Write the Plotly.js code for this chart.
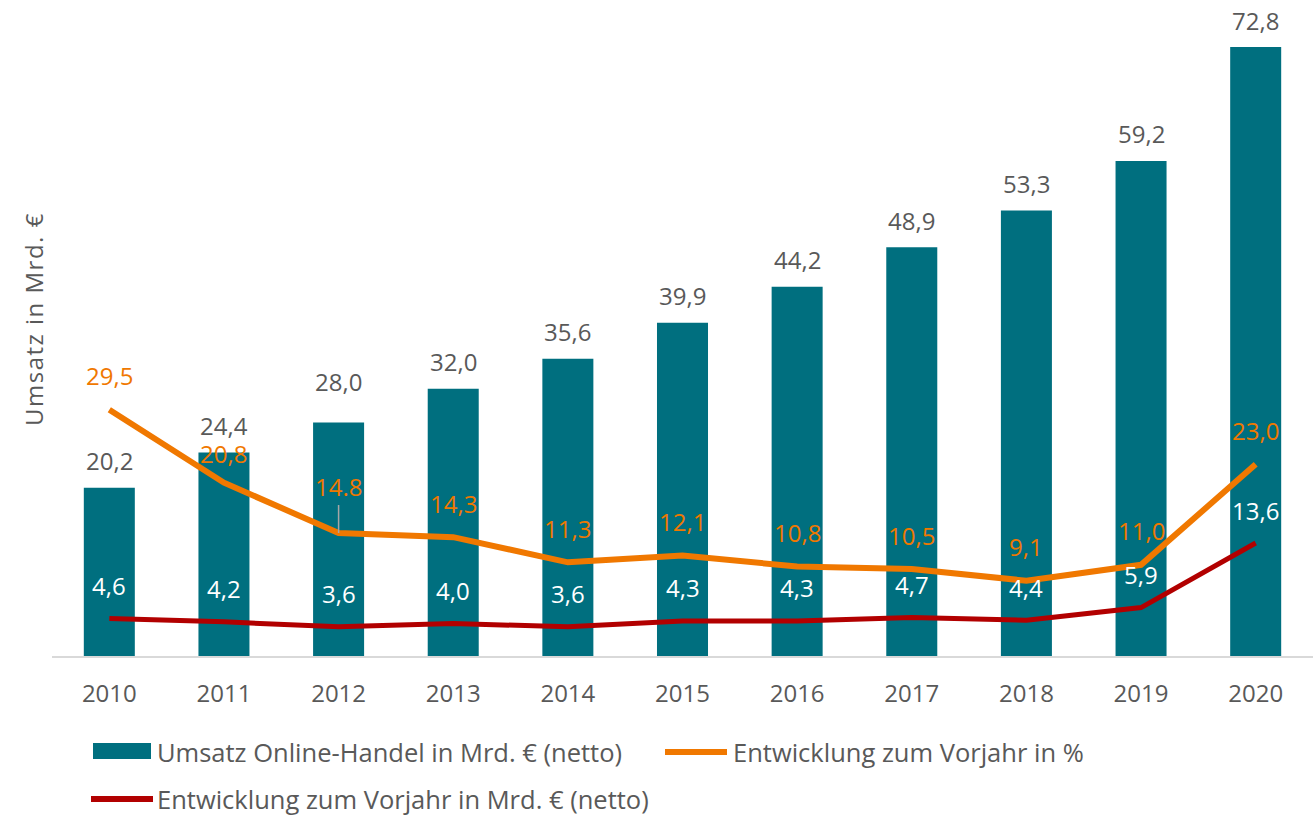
<!DOCTYPE html>
<html>
<head>
<meta charset="utf-8">
<script src="https://cdn.plot.ly/plotly-3.0.1.min.js"></script>
<style>
html,body{margin:0;padding:0;background:#fff;}
#chart{width:1313px;height:815px;}
</style>
</head>
<body>
<div id="chart"></div>
<script>
// ---- data ----
const years = ["2010","2011","2012","2013","2014","2015","2016","2017","2018","2019","2020"];
const umsatz = [20.2, 24.4, 28.0, 32.0, 35.6, 39.9, 44.2, 48.9, 53.3, 59.2, 72.8];
const entwicklungProzent = [29.5, 20.8, 14.8, 14.3, 11.3, 12.1, 10.8, 10.5, 9.1, 11.0, 23.0];
const entwicklungMrd = [4.6, 4.2, 3.6, 4.0, 3.6, 4.3, 4.3, 4.7, 4.4, 5.9, 13.6];
const prozentLabels = ["29,5","20,8","14.8","14,3","11,3","12,1","10,8","10,5","9,1","11,0","23,0"];
const seriesNames = ["Umsatz Online-Handel in Mrd. € (netto)", "Entwicklung zum Vorjahr in %", "Entwicklung zum Vorjahr in Mrd. € (netto)"];
const yTitle = "Umsatz in Mrd. €";

// ---- style ----
const TEAL = "#006F7F", ORANGE = "#F07800", RED = "#B20000", GRAY = "#595959";
const FONT = "Open Sans, sans-serif";
const FS = 24;
const LFS = 25.5;
const fmt = v => v.toFixed(1).replace(".", ",");

const traces = [
  {type:"bar", x:years, y:umsatz, name:seriesNames[0], marker:{color:TEAL}, width:0.445, hoverinfo:"skip"},
  {type:"scatter", mode:"lines", x:years, y:entwicklungProzent, name:seriesNames[1], line:{color:ORANGE, width:6}, hoverinfo:"skip"},
  {type:"scatter", mode:"lines", x:years, y:entwicklungMrd, name:seriesNames[2], line:{color:RED, width:5}, hoverinfo:"skip"}
];

const annotations = [];
years.forEach((yr, i) => {
  annotations.push({x:i, y:umsatz[i], xref:"x", yref:"y", text:fmt(umsatz[i]), showarrow:false, yshift:(i===2?41:27), font:{family:FONT, size:FS, color:GRAY}});
  if (i === 2) {
    annotations.push({x:i, y:entwicklungProzent[i], xref:"x", yref:"y", text:prozentLabels[i], showarrow:true, arrowhead:0, arrowwidth:1.5, arrowcolor:"#A6A6A6", ax:0, ay:-46, font:{family:FONT, size:FS, color:ORANGE}});
  } else {
    annotations.push({x:i, y:entwicklungProzent[i], xref:"x", yref:"y", text:prozentLabels[i], showarrow:false, yshift:(i===1?29:34), font:{family:FONT, size:FS, color:ORANGE}});
  }
  annotations.push({x:i, y:entwicklungMrd[i], xref:"x", yref:"y", text:fmt(entwicklungMrd[i]), showarrow:false, yshift:33, font:{family:FONT, size:FS, color:"#FFFFFF"}});
});

// pixel -> paper helpers
const W = 1313, H = 815, L = 52, R = 0, T = 20, B = 158;
const pw = W - L - R, ph = H - T - B;
const px = x => (x - L) / pw;
const py = y => (H - B - y) / ph;

// y-axis title (centred, so a little extra tracking keeps it centred)
const titleIndex = annotations.length;
annotations.push({xref:"paper", yref:"paper", x:px(33), y:py(319), xanchor:"center", yanchor:"middle", text:yTitle, textangle:-90, showarrow:false, font:{family:FONT, size:FS, color:GRAY}});
const st = document.createElement("style");
st.textContent = `#chart g.annotation[data-index="${titleIndex}"] text{letter-spacing:1.5px;}`;
document.head.appendChild(st);

// custom legend
const shapes = [
  {type:"line", xref:"paper", yref:"paper", x0:0, x1:1, y0:0, y1:0, line:{color:"#D9D9D9", width:2}},
  {type:"rect", xref:"paper", yref:"paper", x0:px(93), x1:px(151), y0:py(743), y1:py(759), fillcolor:TEAL, line:{width:0}},
  {type:"line", xref:"paper", yref:"paper", x0:px(665), x1:px(727), y0:py(752), y1:py(752), line:{color:ORANGE, width:6}},
  {type:"line", xref:"paper", yref:"paper", x0:px(91), x1:px(153), y0:py(799), y1:py(799), line:{color:RED, width:6}}
];
const legendPos = [[155, 752], [731, 752], [155, 799]];
seriesNames.forEach((n, k) => {
  annotations.push({xref:"paper", yref:"paper", x:px(legendPos[k][0]), y:py(legendPos[k][1]), xanchor:"left", yanchor:"middle", text:n, showarrow:false, font:{family:FONT, size:LFS, color:GRAY}});
});

const layout = {
  width:W, height:H,
  margin:{l:L, r:R, t:T, b:B, pad:0},
  paper_bgcolor:"#FFFFFF", plot_bgcolor:"#FFFFFF",
  showlegend:false,
  xaxis:{type:"category", range:[-0.5,10.5], showgrid:false, zeroline:false, showline:false, ticks:"", ticklabelstandoff:20, tickfont:{family:FONT, size:FS, color:GRAY}, fixedrange:true},
  yaxis:{range:[0, 637/(610/72.8)], showgrid:false, zeroline:false, showline:false, showticklabels:false, ticks:"", fixedrange:true},
  annotations:annotations,
  shapes:shapes,
  font:{family:FONT, color:GRAY}
};

Plotly.newPlot("chart", traces, layout, {displayModeBar:false, staticPlot:true});
</script>
</body>
</html>
